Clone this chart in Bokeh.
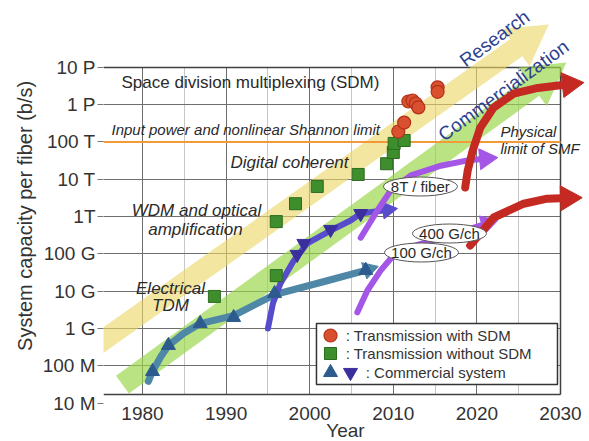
import math
from bokeh.plotting import figure
from bokeh.models import FixedTicker, CustomJSTickFormatter, Grid
from bokeh.core.properties import value
from bokeh.embed import file_html
from bokeh.resources import INLINE

# ---------------- data ----------------
# Transmission experiments with SDM (red circles)
SDM_YEAR = [2010.6, 2011.3, 2011.8, 2012.3, 2012.7, 2013.0, 2015.3, 2015.3]
SDM_CAP = [1.9e14, 3.3e14, 1.21e15, 1.29e15, 1.07e15, 8.4e14, 2.9e15, 2.2e15]
# Transmission experiments without SDM (green squares)
NOSDM_YEAR = [1988.6, 1996.0, 1996.0, 1998.3, 2000.9, 2005.8, 2009.2, 2010.0, 2010.1, 2011.3]
NOSDM_CAP = [7.2e9, 2.6e10, 7.3e11, 2.2e12, 6.4e12, 1.34e13, 2.6e13, 5.2e13, 9.1e13, 1.09e14]
# Commercial systems: electrical TDM (up triangles) and WDM (down triangles)
TDM_MARK_YEAR = [1981.2, 1983.1, 1986.9, 1990.9, 1995.8, 2006.7]
TDM_MARK_CAP = [7.0e7, 3.5e8, 1.35e9, 1.96e9, 8.6e9, 3.6e10]
WDM_MARK_YEAR = [1998.5, 1999.3, 2002.5, 2006.1]
WDM_MARK_CAP = [9.6e10, 1.89e11, 4.5e11, 1.2e12]

# Trend curves (last point = arrow tip)
TDM_PATH_YEAR = [1980.7, 1981.2, 1982.2, 1983.1, 1984.9, 1986.9, 1990.9, 1995.8, 2001.3, 2006.7, 2008.2]
TDM_PATH_CAP = [3.8e7, 7.0e7, 1.77e8, 3.5e8, 7.3e8, 1.35e9, 2.2e9, 8.1e9, 1.7e10, 3.6e10, 4.6e10]
WDM_PATH_YEAR = [1995.0, 1995.6, 1996.5, 1998.1, 1999.7, 2002.5, 2004.9, 2006.1, 2010.5]
WDM_PATH_CAP = [9.9e8, 4.7e9, 1.6e10, 6.6e10, 1.89e11, 4.2e11, 7.8e11, 1.2e12, 1.64e12]
COH_FIBER_YEAR = [2006.1, 2008.1, 2009.7, 2012.1, 2015.7, 2018.9, 2022.5]
COH_FIBER_CAP = [2.7e11, 1.45e12, 5.0e12, 1.26e13, 2.3e13, 3.2e13, 3.8e13]
COH_CH_YEAR = [2005.7, 2006.9, 2008.5, 2009.7, 2011.5, 2017.4, 2020.4, 2022.5]
COH_CH_CAP = [2.7e9, 1.04e10, 3.6e10, 7.5e10, 1.39e11, 3.5e11, 5.7e11, 7.8e11]
SMF_FIBER_YEAR = [2018.6, 2018.9, 2019.5, 2020.4, 2022.0, 2024.4, 2027.3, 2032.8]
SMF_FIBER_CAP = [6.0e12, 1.7e13, 5.9e13, 2.4e14, 8.3e14, 1.96e15, 2.8e15, 3.9e15]
SMF_CH_YEAR = [2019.2, 2022.0, 2025.6, 2028.4, 2032.6]
SMF_CH_CAP = [1.67e11, 9.4e11, 2.2e12, 3.0e12, 3.2e12]

# Broad trend bands (start, tip)
RESEARCH_YEAR = [1974.1, 2028.6]
RESEARCH_CAP = [3.1e8, 1.4e17]
COMMERCIAL_YEAR = [1977.6, 2030.7]
COMMERCIAL_CAP = [3.1e7, 1.35e16]

SHANNON_LIMIT = 1e14

X_TICKS = [1980, 1990, 2000, 2010, 2020, 2030]
GRID_YEARS = [1980, 1985, 1990, 1995, 2000, 2005, 2010, 2015, 2020, 2025]
Y_TICKS = [1e7, 1e8, 1e9, 1e10, 1e11, 1e12, 1e13, 1e14, 1e15, 1e16]
Y_TICK_LABELS = ["10 M", "100 M", "1 G", "10 G", "100 G", "1T", "10 T", "100 T", "1 P", "10 P"]

# ---------------- layout / style ----------------
FONT = "Liberation Sans"
FRAME_W, FRAME_H = 484, 403
X0, X1 = 1975.335, 2033.23
LG0, LG1 = 6.9866, 17.791
BOX_LEFT = 1975.335
BOX_RIGHT = 2030.0
BOX_TOP = 1e16
BOX_BOTTOM = 10 ** 7.2279
PX_YEAR = FRAME_W / (X1 - X0)
PX_DEC = FRAME_H / (LG1 - LG0)

p = figure(frame_width=FRAME_W, frame_height=FRAME_H, x_range=(X0, X1), y_range=(10 ** LG0, 10 ** LG1),
           y_axis_type="log", output_backend="svg", toolbar_location=None,
           min_border_left=103, min_border_right=0, min_border_top=0, min_border_bottom=0,
           background_fill_color="white", border_fill_color="white")
p.outline_line_color = None
p.xgrid.visible = False
p.ygrid.visible = False


# grid lines and box, limited to the plotting box
def add_grid(dim, ticks, cross, color, width, minor=None, minor_color=None):
    kw = dict(dimension=dim, ticker=FixedTicker(ticks=ticks, minor_ticks=minor or []),
              grid_line_color=color, grid_line_width=width, minor_grid_line_color=minor_color)
    try:
        g = Grid(cross_bounds=cross, **kw)
    except AttributeError:
        g = Grid(**kw)
    p.add_layout(g)


minor_years = [y for y in GRID_YEARS if y % 10 != 0]
major_years = [y for y in GRID_YEARS if y % 10 == 0]
inner_caps = [c for c in Y_TICKS if BOX_BOTTOM < c < BOX_TOP]
add_grid(0, major_years, (BOX_BOTTOM, BOX_TOP), "#6e6e6e", 1, minor_years, "#c6c6c6")
add_grid(1, inner_caps, (BOX_LEFT, BOX_RIGHT), "#6e6e6e", 1)
add_grid(0, [BOX_LEFT, BOX_RIGHT], (BOX_BOTTOM, BOX_TOP), "#404040", 1.5)
add_grid(1, [BOX_BOTTOM, BOX_TOP], (BOX_LEFT, BOX_RIGHT), "#404040", 1.5)


def head_geom(xa, ya, xb, yb, size):
    """Centre / base of a triangular arrow head whose tip lies at (xb, yb)."""
    la, lb = math.log10(ya), math.log10(yb)
    th = math.atan2((lb - la) * PX_DEC, (xb - xa) * PX_YEAR)
    h = size * math.sqrt(3) / 2
    cx = xb - (2 * h / 3) * math.cos(th) / PX_YEAR
    cy = 10 ** (lb - (2 * h / 3) * math.sin(th) / PX_DEC)
    bx = xb - h * math.cos(th) / PX_YEAR
    by = 10 ** (lb - h * math.sin(th) / PX_DEC)
    return cx, cy, th - math.pi / 2, bx, by


def band(xs, ys, color, alpha, width, head):
    cx, cy, ang, bx, by = head_geom(xs[0], ys[0], xs[-1], ys[-1], head)
    p.line([xs[0], bx], [ys[0], by], line_color=color, line_alpha=alpha, line_width=width, line_cap="butt")
    p.scatter([cx], [cy], marker="triangle", size=head, angle=ang, fill_color=color, fill_alpha=alpha,
              line_color=None)


band(RESEARCH_YEAR, RESEARCH_CAP, "#ecd765", 0.62, 21, 46)
band(COMMERCIAL_YEAR, COMMERCIAL_CAP, "#9ad64a", 0.68, 22, 48)

# Shannon limit
p.multi_line(xs=[[BOX_LEFT, BOX_RIGHT]], ys=[[SHANNON_LIMIT, SHANNON_LIMIT]], line_color="#f09a3a", line_width=2)


def txt(xs, ys, texts, size, style="normal", color="#2a2a2a", align="center", angle=0.0):
    p.text(x=xs, y=ys, text=texts, text_font=value(FONT), text_font_size=value(size),
           text_font_style=value(style), text_color=color, text_align=value(align),
           text_baseline=value("middle"), angle=angle)


txt([1977.49], [10 ** 15.593], ["Space division multiplexing (SDM)"], "17px", align="left")
txt([1976.29], [10 ** 14.332], ["Input power and nonlinear Shannon limit"], "15px", "italic", align="left")
txt([1997.58], [10 ** 13.448], ["Digital coherent"], "17px", "italic")
txt([1986.46, 1986.34], [10 ** 12.161, 10 ** 11.651], ["WDM and optical", "amplification"], "17px", "italic")
txt([1983.35, 1983.35], [10 ** 10.07, 10 ** 9.614], ["Electrical", "TDM"], "17px", "italic")
txt([2022.82, 2022.82], [10 ** 14.28, 10 ** 13.823], ["Physical", "limit of SMF"], "15px", "italic", align="left")
txt([2022.11], [10 ** 16.772], ["Research"], "19px", color="#2d3f8f", angle=0.635)
txt([2023.18], [10 ** 15.378], ["Commercialization"], "19px", color="#2d3f8f", angle=0.632)


# curves
def curve(xs, ys, color, width, head):
    cx, cy, ang, bx, by = head_geom(xs[-2], ys[-2], xs[-1], ys[-1], head)
    p.line(list(xs[:-1]) + [bx], list(ys[:-1]) + [by], line_color=color, line_width=width,
           line_cap="round", line_join="round")
    p.scatter([cx], [cy], marker="triangle", size=head, angle=ang, fill_color=color, line_color=color)


curve(TDM_PATH_YEAR, TDM_PATH_CAP, "#4f87a6", 7, 17)
curve(WDM_PATH_YEAR, WDM_PATH_CAP, "#574ccc", 6, 17)
curve(COH_FIBER_YEAR, COH_FIBER_CAP, "#a457e6", 6, 21)
curve(COH_CH_YEAR, COH_CH_CAP, "#a457e6", 6, 19)
curve(SMF_FIBER_YEAR, SMF_FIBER_CAP, "#c42a22", 8, 25)
curve(SMF_CH_YEAR, SMF_CH_CAP, "#c42a22", 8, 25)

# markers
p.scatter(TDM_MARK_YEAR, TDM_MARK_CAP, marker="triangle", size=14, fill_color="#2e5b8e", line_color="#2e5b8e")
p.scatter(WDM_MARK_YEAR, WDM_MARK_CAP, marker="inverted_triangle", size=14, fill_color="#3b2f9e",
          line_color="#3b2f9e")
p.scatter(NOSDM_YEAR, NOSDM_CAP, marker="square", size=12, fill_color="#3e8e2e", line_color="#2b6b1e")
p.scatter(SDM_YEAR, SDM_CAP, marker="circle", size=13, fill_color="#d9502e", line_color="#b3301a", line_width=1.2)

# bubble labels
BUBBLE_X = [2013.25, 2016.72, 2013.37]
BUBBLE_Y = [10 ** 12.804, 10 ** 11.544, 10 ** 11.035]
BUBBLE_TEXT = ["8T / fiber", "400 G/ch", "100 G/ch"]
p.ellipse(x=BUBBLE_X, y=BUBBLE_Y, width=74, height=19, width_units="screen", height_units="screen",
          fill_color="white", line_color="#555555", line_width=1)
txt(BUBBLE_X, BUBBLE_Y, BUBBLE_TEXT, "15px")

# legend (manual)
LEG_L, LEG_R, LEG_B, LEG_T = 2000.81, 2029.64, 10 ** 7.496, 10 ** 9.131
ROW_Y = [10 ** 8.810, 10 ** 8.327, 10 ** 7.818]
p.quad(left=LEG_L, right=LEG_R, bottom=LEG_B, top=LEG_T, fill_color="white", line_color="#333333", line_width=1.5)
p.scatter([2002.49], [ROW_Y[0]], marker="circle", size=13, fill_color="#d9502e", line_color="#b3301a",
          line_width=1.2)
p.scatter([2002.49], [ROW_Y[1]], marker="square", size=12, fill_color="#3e8e2e", line_color="#2b6b1e")
p.scatter([2002.49], [ROW_Y[2]], marker="triangle", size=14, fill_color="#2e5b8e", line_color="#2e5b8e")
p.scatter([2004.88], [ROW_Y[2]], marker="inverted_triangle", size=14, fill_color="#3b2f9e", line_color="#3b2f9e")
txt([2004.3, 2004.3], ROW_Y[:2], [":   Transmission with SDM", ":   Transmission without SDM"], "15px",
    color="#333333", align="left")
txt([2006.7], ROW_Y[2:], [":   Commercial system"], "15px", color="#333333", align="left")

# axes
p.xaxis.ticker = FixedTicker(ticks=X_TICKS)
p.xaxis.axis_line_color = None
p.xaxis.major_tick_line_color = None
p.xaxis.minor_tick_line_color = None
p.xaxis.major_label_standoff = -3
p.xaxis.major_label_text_font = FONT
p.xaxis.major_label_text_font_size = "19px"
p.xaxis.major_label_text_color = "#333333"
p.xaxis.axis_label = "Year"
p.xaxis.axis_label_text_font = FONT
p.xaxis.axis_label_text_font_size = "19px"
p.xaxis.axis_label_text_font_style = "normal"
p.xaxis.axis_label_text_color = "#333333"
p.xaxis.axis_label_standoff = -3

p.yaxis.ticker = FixedTicker(ticks=Y_TICKS)
p.yaxis.formatter = CustomJSTickFormatter(args=dict(labels=Y_TICK_LABELS), code="""
const i = Math.round(Math.log10(tick)) - 7;
return (i >= 0 && i < labels.length) ? labels[i] : "";
""")
p.yaxis.axis_line_color = None
p.yaxis.major_tick_out = 6
p.yaxis.major_tick_in = 0
p.yaxis.major_tick_line_color = "#777777"
p.yaxis.minor_tick_line_color = None
p.yaxis.major_label_standoff = 2
p.yaxis.major_label_text_font = FONT
p.yaxis.major_label_text_font_size = "19px"
p.yaxis.major_label_text_color = "#333333"
p.yaxis.axis_label = "System capacity per fiber (b/s)" + "\u00a0" * 5
p.yaxis.axis_label_text_font = FONT
p.yaxis.axis_label_text_font_size = "20px"
p.yaxis.axis_label_text_font_style = "normal"
p.yaxis.axis_label_text_color = "#333333"
p.yaxis.axis_label_standoff = 4

open("out.html", "w").write(file_html(p, INLINE))
